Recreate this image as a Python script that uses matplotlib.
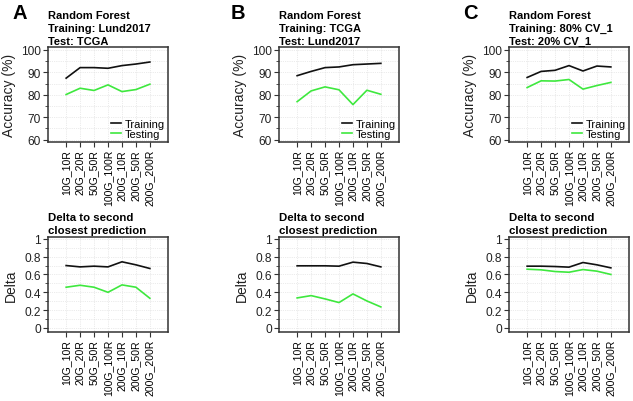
import numpy as np
import matplotlib
matplotlib.use("Agg")
import matplotlib.pyplot as plt
from matplotlib.ticker import MultipleLocator

plt.rcParams['font.family'] = ['Liberation Sans', 'DejaVu Sans']

# categories (number of genes / rules)
categories = ["10G_10R", "20G_20R", "50G_50R", "100G_100R",
              "200G_10R", "200G_50R", "200G_200R"]

# accuracy (%) - top row
acc_train_A = [87.4, 92.1, 92.1, 91.8, 93.0, 93.7, 94.6]
acc_test_A = [80.1, 82.9, 81.9, 84.4, 81.4, 82.3, 84.7]
acc_train_B = [88.5, 90.4, 92.1, 92.4, 93.4, 93.7, 94.0]
acc_test_B = [76.9, 81.7, 83.5, 82.2, 75.6, 82.0, 80.2]
acc_train_C = [87.7, 90.4, 90.9, 93.0, 90.6, 92.8, 92.4]
acc_test_C = [83.2, 86.2, 86.1, 86.8, 82.5, 84.1, 85.5]

# delta to second closest prediction - bottom row
delta_train_A = [0.700, 0.685, 0.693, 0.685, 0.742, 0.708, 0.667]
delta_test_A = [0.457, 0.479, 0.457, 0.400, 0.483, 0.457, 0.333]
delta_train_B = [0.697, 0.697, 0.697, 0.693, 0.738, 0.723, 0.685]
delta_test_B = [0.337, 0.363, 0.326, 0.285, 0.382, 0.303, 0.236]
delta_train_C = [0.693, 0.693, 0.689, 0.682, 0.734, 0.708, 0.674]
delta_test_C = [0.659, 0.652, 0.633, 0.625, 0.655, 0.637, 0.600]

titles = ["Random Forest\nTraining: Lund2017\nTest: TCGA",
          "Random Forest\nTraining: TCGA\nTest: Lund2017",
          "Random Forest\nTraining: 80% CV_1\nTest: 20% CV_1"]
letters = ["A", "B", "C"]

train_col = "#111111"
test_col = "#3ee83e"
frame_col = "#333333"

W, H = 633, 402
fig = plt.figure(figsize=(W / 100, H / 100), dpi=100)

lefts = [48, 279, 509]
letter_x = [12, 231, 463]
box_w = 120
box_h = 95
top_bottom = 143
bot_bottom = 333

acc_data = [(acc_train_A, acc_test_A), (acc_train_B, acc_test_B), (acc_train_C, acc_test_C)]
delta_data = [(delta_train_A, delta_test_A), (delta_train_B, delta_test_B),
              (delta_train_C, delta_test_C)]

x = np.arange(len(categories))


def style_ax(ax):
    ax.set_xlim(-1.3, 7.3)
    ax.set_xticks(x)
    ax.set_xticklabels(categories, rotation=90, fontsize=7.6)
    for s in ax.spines.values():
        s.set_color(frame_col)
        s.set_linewidth(1.1)
    ax.tick_params(axis='both', which='major', length=3.5, width=0.8,
                   color=frame_col, pad=1.5)
    ax.tick_params(axis='y', which='major', labelsize=8.6, labelcolor='#222222')
    ax.tick_params(axis='y', which='minor', length=2, width=0.6, color=frame_col)
    ax.grid(True, which='both', color='#d8d8d8', linewidth=0.5, linestyle=':')
    ax.set_axisbelow(True)


for i in range(3):
    # top: accuracy
    ax = fig.add_axes([lefts[i] / W, 1 - top_bottom / H, box_w / W, box_h / H])
    tr, te = acc_data[i]
    ax.plot(x, tr, color=train_col, lw=1.2, label="Training")
    ax.plot(x, te, color=test_col, lw=1.2, label="Testing")
    ax.set_ylim(58.9, 101.3)
    ax.set_yticks([60, 70, 80, 90, 100])
    ax.yaxis.set_minor_locator(MultipleLocator(5))
    style_ax(ax)
    ax.set_ylabel("Accuracy (%)", fontsize=10, color='#222222')
    ax.yaxis.set_label_coords(-0.27, 0.5)
    ax.legend(loc='lower right', frameon=False, fontsize=8, handlelength=0.9,
              handletextpad=0.4, labelspacing=0.05, borderaxespad=0.15, borderpad=0.1)
    ax.text(0, 1.015, titles[i], transform=ax.transAxes, ha='left', va='bottom',
            fontsize=8, fontweight='bold', linespacing=1.35)
    fig.text(letter_x[i] / W, 1 - 19 / H, letters[i], fontsize=14.5,
             fontweight='bold', ha='left', va='baseline')

    # bottom: delta
    ax2 = fig.add_axes([lefts[i] / W, 1 - bot_bottom / H, box_w / W, box_h / H])
    tr, te = delta_data[i]
    ax2.plot(x, tr, color=train_col, lw=1.2)
    ax2.plot(x, te, color=test_col, lw=1.2)
    ax2.set_ylim(-0.045, 1.02)
    ax2.set_yticks([0, 0.2, 0.4, 0.6, 0.8, 1])
    ax2.set_yticklabels(["0", "0.2", "0.4", "0.6", "0.8", "1"])
    ax2.yaxis.set_minor_locator(MultipleLocator(0.1))
    style_ax(ax2)
    ax2.set_ylabel("Delta", fontsize=10, color='#222222')
    ax2.yaxis.set_label_coords(-0.25, 0.5)
    ax2.text(0, 1.02, "Delta to second\nclosest prediction", transform=ax2.transAxes,
             ha='left', va='bottom', fontsize=8.2, fontweight='bold', linespacing=1.4)

fig.savefig("out.png", dpi=100)
